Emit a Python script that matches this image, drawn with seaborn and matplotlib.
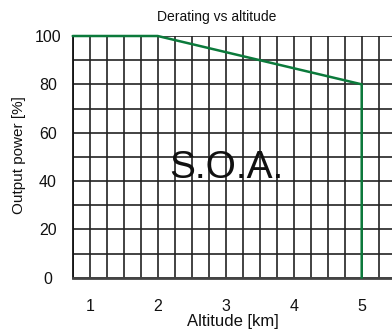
import numpy as np
import pandas as pd
import matplotlib
matplotlib.use("Agg")
import matplotlib.pyplot as plt
import seaborn as sns

# derating curve (altitude km, output power %)
altitude = [0.75, 2.0, 5.0, 5.0]
power = [100, 100, 80, 0]
xticks = [1, 2, 3, 4, 5]
yticks = [0, 20, 40, 60, 80, 100]

sns.set_style("white")
plt.rcParams['font.family'] = ['Liberation Sans', 'DejaVu Sans']

W, H = 392, 332
fig = plt.figure(figsize=(W / 100, H / 100), dpi=100)
x0, x1 = 0.75, 5.5
left, right = 72.7, 72.7 + (x1 - x0) * 68
top, bottom = 36.0, 277.7
ax = fig.add_axes([left / W, 1 - bottom / H, (right - left) / W, (bottom - top) / H])

df = pd.DataFrame({"alt": altitude, "pwr": power})
# grid every 0.25 km / 10 %
ax.set_xticks(np.arange(0.75, 5.51, 0.25), minor=True)
ax.set_yticks(np.arange(0, 101, 10), minor=True)
ax.grid(which="both", color="#222222", lw=1.2)
ax.set_axisbelow(True)

sns.lineplot(data=df, x="alt", y="pwr", sort=False, estimator=None,
             color="#0b7a3b", lw=1.8, ax=ax, clip_on=False, zorder=5)

ax.set_xlim(x0, x1)
ax.set_ylim(0, 100)
ax.set_xticks(xticks)
ax.set_yticks(yticks)
ax.tick_params(which="both", length=0, labelsize=11.5, colors="#111111")
ax.tick_params(axis="x", pad=15)
ax.tick_params(axis="y", pad=17.8)
for lbl in ax.get_yticklabels():
    lbl.set_horizontalalignment("center")

for s in ["top", "right"]:
    ax.spines[s].set_visible(False)
ax.spines["left"].set_color("#111111")
ax.spines["left"].set_lw(1.3)
ax.spines["bottom"].set_color("#444444")
ax.spines["bottom"].set_lw(2.0)

ax.set_xlabel("Altitude [km]", fontsize=12, color="#111111", va="center")
ax.set_ylabel("Output power [%]", fontsize=11, color="#111111", va="center")
ax.xaxis.set_label_coords((233 - left) / (right - left), -(321.7 - bottom) / (bottom - top))
ax.yaxis.set_label_coords(-(left - 19) / (right - left), 0.5 + (156.85 - 155) / (bottom - top))

fig.text(216.5 / W, 1 - 17 / H, "Derating vs altitude", ha="center", va="center",
         fontsize=10, color="#111111")
ax.text(3.01, 41.3, "S.O.A.", ha="center", va="baseline", fontsize=28, color="#111111",
        zorder=6)

fig.savefig("out.png", dpi=100)
